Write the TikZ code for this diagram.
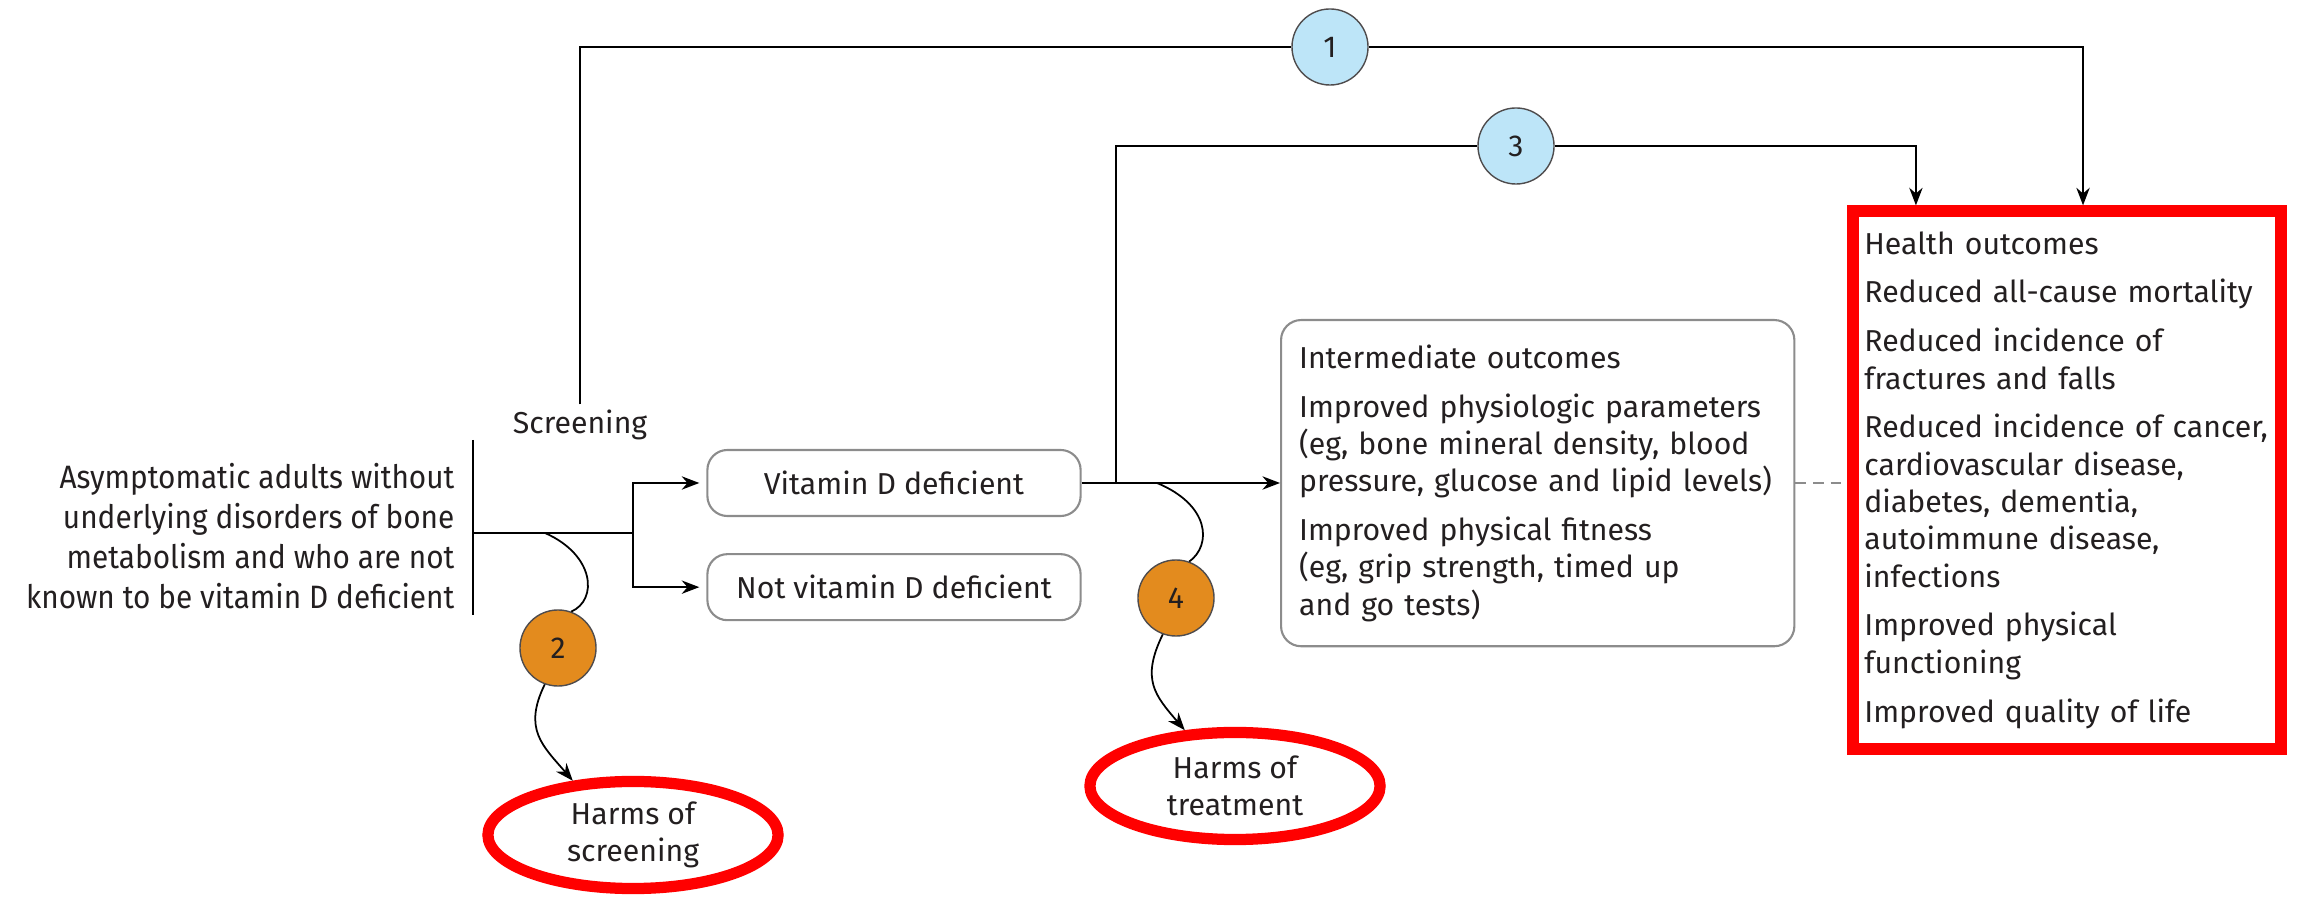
\documentclass[tikz,border=0pt]{standalone}
\usepackage{fontspec}
\setmainfont{Fira Sans}
\newfontfamily\popfamily[FakeStretch=0.92]{Fira Sans}
\usetikzlibrary{positioning,shapes.geometric,arrows.meta}
\definecolor{inktext}{HTML}{231F20}
\definecolor{kqblue}{HTML}{BDE5F8}
\definecolor{kqorange}{HTML}{E38B1E}
\definecolor{boxgray}{HTML}{8C8C8C}
\newcommand{\boxfont}{\fontsize{8.6}{10.6}\selectfont\hyphenpenalty=10000}
\begin{document}
\begin{tikzpicture}[x=0.01cm,y=-0.01cm,line width=0.5pt,
    >={Stealth[length=5pt,width=3.8pt]},
    every node/.style={text=inktext,font=\boxfont},
    kq/.style={circle,draw=inktext!80,line width=0.4pt,minimum size=0.76cm,inner sep=0pt},
    kqa/.style={kq,fill=kqblue}, kqb/.style={kq,fill=kqorange},
    rbox/.style={draw=boxgray,rounded corners=0.2cm,line width=0.6pt,minimum width=3.73cm,minimum height=0.66cm},
    tbox/.style={align=left,inner xsep=0.18cm,text width=4.77cm,minimum height=3.26cm},
    harm/.style={ellipse,draw=red,line width=3.2pt,minimum width=2.9cm,minimum height=1.07cm,align=center,inner sep=0pt},
    node distance=0.36cm]
            \useasboundingbox (0,0) rectangle (2297,898);
            \node[anchor=east,align=right,font={\popfamily\fontsize{9.2}{11.4}\selectfont}] (pop) at (467,536) {Asymptomatic adults without\\underlying disorders of bone\\metabolism and who are not\\known to be vitamin D deficient};
            \node (scr) at (580,425) {Screening};
            \node[rbox] (vdd) at (894,483) {Vitamin D deficient};
            \node[rbox,below=of vdd] (nvdd) {Not vitamin D deficient};
            \node[tbox,draw=boxgray,rounded corners=0.2cm,line width=0.6pt,anchor=north west] (inter) at (1280,319) {Intermediate outcomes\\[3.3pt]
                Improved physiologic parameters\\(eg, bone mineral density, blood\\pressure, glucose and lipid levels)\\[3.3pt]
                Improved physical fitness\\(eg, grip strength, timed up\\and go tests)};
            \node[align=left,draw=red,line width=3.4pt,inner xsep=0.115cm,text width=4.05cm,minimum height=5.37cm] (health) at (2067,480) {Health outcomes\\[3.3pt]
                Reduced all-cause mortality\\[3.3pt]
                Reduced incidence of\\fractures and falls\\[3.3pt]
                Reduced incidence of cancer,\\cardiovascular disease,\\diabetes, dementia,\\autoimmune disease,\\infections\\[3.3pt]
                Improved physical\\functioning\\[3.3pt]
                Improved quality of life};
            \node[kqa] (k1) at (1330,47) {1};
            \node[kqa] (k3) at (1516,146) {3};
            \node[kqb] (k2) at (558,648) {2};
            \node[kqb] (k4) at (1176,598) {4};
            \node[harm] (hs) at (633,835) {Harms of\\screening};
            \node[harm] (ht) at (1235,786) {Harms of\\treatment};
            \coordinate (bartop) at (473,440);
            \coordinate (barbot) at (473,615);
            \coordinate (popbar) at (473,533);
            \coordinate (split) at (633,533);
            \coordinate (fork) at (1116,483);
            \coordinate (h2) at (545,533);
            \coordinate (h4) at (1157,483);
            \draw (bartop) -- (barbot);
            \draw (popbar) -- (split);
            \draw[->,shorten >=2pt] (split) |- (vdd.west);
            \draw[->,shorten >=2pt] (split) |- (nvdd.west);
            \draw[->] (vdd.east) -- (vdd.east -| inter.west);
            \draw ([yshift=-2pt]scr.north) |- (k1);
            \draw[->] (k1) -| ([xshift=0.16cm]health.north);
            \draw (fork) |- (k3);
            \draw[->] (k3) -| ([xshift=-1.51cm]health.north);
            \draw[dashed,draw=boxgray,dash pattern=on 3pt off 2pt] (inter.east) -- (inter.east -| health.west);
            \draw (h2) .. controls (595,555) and (598,600) .. (k2.70);
            \draw[->] (k2.250) .. controls +(-22,45) and +(-30,-35) .. (hs.138);
            \draw (h4) .. controls (1210,505) and (1212,545) .. (k4.70);
            \draw[->] (k4.250) .. controls +(-22,45) and +(-30,-35) .. (ht.132);
        \end{tikzpicture}
\end{document}
